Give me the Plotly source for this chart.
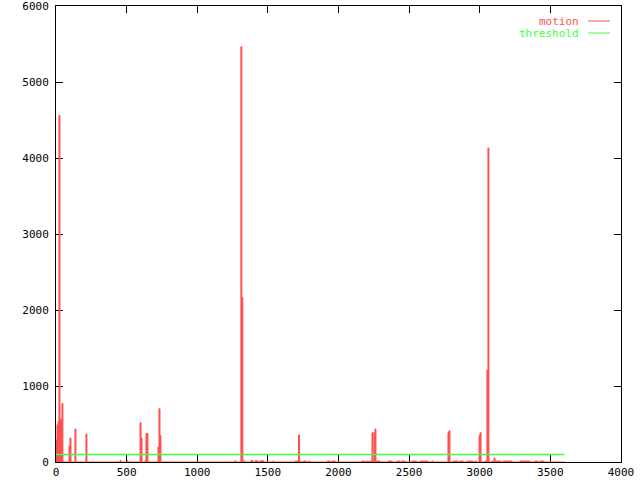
import plotly.graph_objects as go

# motion series: change points (time, value), drawn as a step curve
motion_t = [0, 7, 14, 21, 28, 42, 49, 92, 99, 106, 134, 141, 212, 219, 453, 460, 503, 510,
            595, 602, 609, 630, 637, 651, 722, 729, 736, 743, 1267, 1274,
            1309, 1316, 1323, 1330, 1337, 1380, 1394, 1409, 1430, 1444, 1472, 1536, 1543,
            1692, 1717, 1724, 1731, 1750, 1771, 1790, 1797, 1920, 1941, 1955, 1976,
            2165, 2186, 2200, 2214, 2223, 2237, 2244, 2251, 2258, 2265, 2270, 2295,
            2350, 2380, 2415, 2435, 2448, 2470, 2520, 2555, 2577, 2634, 2662, 2669,
            2775, 2782, 2789, 2811, 2845, 2860, 2882, 2910, 2952, 2966, 2973,
            2995, 3002, 3009, 3037, 3051, 3058, 3065, 3087, 3101, 3108, 3150, 3165, 3228,
            3285, 3356, 3391, 3412, 3427, 3455, 3604]
motion_v = [290, 490, 530, 4560, 560, 770, 0, 210, 316, 0, 434, 0, 368, 0, 17, 0, 15, 0,
            517, 315, 0, 17, 373, 0, 197, 701, 346, 0, 15, 0,
            5465, 2162, 0, 15, 0, 18, 0, 15, 0, 15, 0, 12, 0,
            12, 355, 12, 0, 12, 0, 12, 0, 12, 0, 12, 0,
            12, 0, 12, 0, 12, 386, 12, 386, 434, 0, 12, 0,
            12, 0, 12, 0, 12, 0, 12, 0, 12, 0, 12, 0,
            386, 412, 0, 12, 0, 12, 0, 12, 0, 12, 0,
            346, 386, 0, 12, 1210, 4132, 0, 12, 53, 12, 0, 12, 0,
            12, 0, 12, 0, 12, 0, 0]

threshold_t = [0, 3600]
threshold_v = [100, 100]

x_ticks = [0, 500, 1000, 1500, 2000, 2500, 3000, 3500, 4000]
y_ticks = [0, 1000, 2000, 3000, 4000, 5000, 6000]

RED = "#ff5050"
GREEN = "#40ff40"
FONT = "DejaVu Sans Mono"

fig = go.Figure()
fig.add_trace(go.Scatter(x=motion_t, y=motion_v, mode="lines", name="motion",
                         line=dict(color=RED, width=1, shape="hv"),
                         fill="tozeroy", fillcolor=RED))
fig.add_trace(go.Scatter(x=threshold_t, y=threshold_v, mode="lines", name="threshold",
                         line=dict(color=GREEN, width=1.5)))

axis_common = dict(showgrid=False, zeroline=False, showline=True, linecolor="black",
                   linewidth=1, mirror="allticks", ticks="inside", ticklen=7,
                   tickcolor="black", tickwidth=1, layer="below traces",
                   automargin=False, ticklabeloverflow="allow",
                   tickfont=dict(family=FONT, size=11, color="black"))
fig.update_xaxes(range=[0, 4000], tickvals=x_ticks, ticktext=[str(v) for v in x_ticks],
                 **axis_common)
fig.update_yaxes(range=[0, 6000], tickvals=y_ticks, ticktext=[str(v) for v in y_ticks],
                 ticklabelstandoff=4, **axis_common)

# gnuplot-style key: text then line sample, top right
legend_items = [("motion", RED, 21), ("threshold", GREEN, 33)]
for label, col, ypx in legend_items:
    fig.add_annotation(text=label, xref="paper", yref="paper",
                       x=(581 - 56) / 565, y=(462 - ypx) / 456,
                       xanchor="right", yanchor="middle", showarrow=False,
                       font=dict(family=FONT, size=11, color=col))
    fig.add_shape(type="line", xref="paper", yref="paper",
                  x0=(588 - 56) / 565, x1=(610 - 56) / 565,
                  y0=(462 - ypx) / 456, y1=(462 - ypx) / 456,
                  line=dict(color=col, width=1))

fig.update_layout(width=640, height=480, showlegend=False,
                  margin=dict(l=56, r=19, t=6, b=18, pad=0, autoexpand=False),
                  paper_bgcolor="white", plot_bgcolor="white",
                  font=dict(family=FONT, size=11, color="black"))

fig.write_html("out.html", config={"displayModeBar": False},
               post_script="document.body.style.margin='0';document.body.style.overflow='hidden';")
